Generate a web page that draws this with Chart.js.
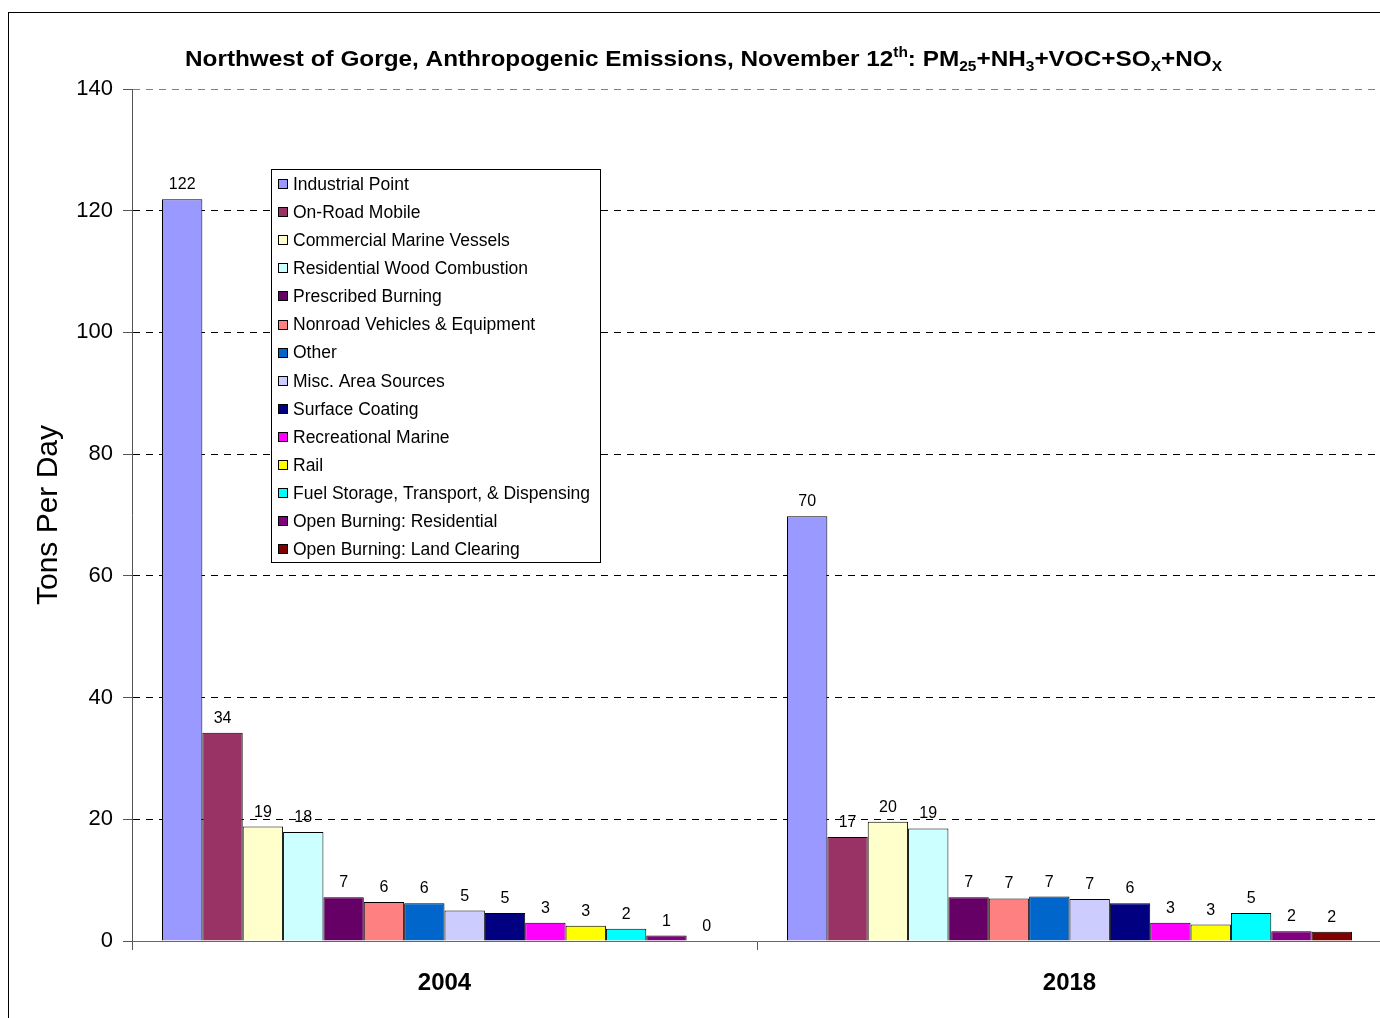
<!DOCTYPE html>
<html>
<head>
<meta charset="utf-8">
<script src="https://cdn.jsdelivr.net/npm/chart.js@4.4.1/dist/chart.umd.min.js"></script>
<style>
  html, body { margin: 0; padding: 0; background: #fff; overflow: hidden; }
  #wrap { position: relative; width: 1382px; height: 1018px; }
  #frame { position: absolute; left: 8px; top: 12px; width: 2000px; height: 2000px; border-left: 1px solid #000; border-top: 1px solid #000; pointer-events: none; }
  canvas { position: absolute; left: 0; top: 0; }
</style>
</head>
<body>
<div id="wrap">
  <canvas id="c" width="1382" height="1018"></canvas>
  <div id="frame"></div>
</div>
<script>
const categories = ['2004', '2018'];
const seriesNames = [
  'Industrial Point',
  'On-Road Mobile',
  'Commercial Marine Vessels',
  'Residential Wood Combustion',
  'Prescribed Burning',
  'Nonroad Vehicles & Equipment',
  'Other',
  'Misc. Area Sources',
  'Surface Coating',
  'Recreational Marine',
  'Rail',
  'Fuel Storage, Transport, & Dispensing',
  'Open Burning: Residential',
  'Open Burning: Land Clearing'
];
const seriesColors = [
  '#9999FF', '#993366', '#FFFFCC', '#CCFFFF', '#660066', '#FF8080', '#0066CC',
  '#CCCCFF', '#000080', '#FF00FF', '#FFFF00', '#00FFFF', '#800080', '#800000'
];
const values2004 = [121.9, 34.2, 18.8, 17.9, 7.2, 6.4, 6.2, 5.0, 4.6, 3.0, 2.5, 2.0, 0.9, 0.0];
const values2018 = [69.8, 17.1, 19.6, 18.5, 7.2, 7.0, 7.3, 6.9, 6.2, 3.0, 2.7, 4.6, 1.6, 1.5];
const yTicks = [0, 20, 40, 60, 80, 100, 120, 140];
const chartTitleParts = [
  ['Northwest of Gorge, Anthropogenic Emissions, November 12', 'n'],
  ['th', 'sup'],
  [': PM', 'n'],
  ['25', 'sub'],
  ['+NH', 'n'],
  ['3', 'sub'],
  ['+VOC+SO', 'n'],
  ['X', 'sub'],
  ['+NO', 'n'],
  ['X', 'sub']
];
const yAxisTitle = 'Tons Per Day';

const FONT = '"Liberation Sans", Arial, sans-serif';

const datasets = seriesNames.map((name, i) => ({
  label: name,
  data: [values2004[i], values2018[i]],
  backgroundColor: seriesColors[i],
  borderColor: '#000000',
  borderWidth: 1,
  borderSkipped: 'bottom'
}));

const valueLabels = {
  id: 'valueLabels',
  afterDatasetsDraw(chart) {
    const ctx = chart.ctx;
    ctx.save();
    ctx.font = '16px ' + FONT;
    ctx.fillStyle = '#000';
    ctx.textAlign = 'center';
    ctx.textBaseline = 'alphabetic';
    chart.data.datasets.forEach((ds, di) => {
      const meta = chart.getDatasetMeta(di);
      meta.data.forEach((bar, idx) => {
        const v = ds.data[idx];
        ctx.fillText(String(Math.round(v)), bar.x, bar.y - 10);
      });
    });
    ctx.restore();
  }
};

const boxLegend = {
  id: 'boxLegend',
  afterDraw(chart) {
    const ctx = chart.ctx;
    const x0 = 271, y0 = 169, w = 329, h = 393;
    ctx.save();
    ctx.fillStyle = '#fff';
    ctx.fillRect(x0, y0, w, h);
    ctx.strokeStyle = '#000';
    ctx.lineWidth = 1;
    ctx.strokeRect(x0 + 0.5, y0 + 0.5, w, h);
    ctx.font = '17.5px ' + FONT;
    ctx.textBaseline = 'middle';
    ctx.textAlign = 'left';
    chart.data.datasets.forEach((ds, i) => {
      const cy = 184 + i * 28.1;
      ctx.fillStyle = ds.backgroundColor;
      ctx.fillRect(278, Math.round(cy - 5), 10, 10);
      ctx.strokeStyle = '#000';
      ctx.strokeRect(278.5, Math.round(cy - 5) + 0.5, 9, 9);
      ctx.fillStyle = '#000';
      ctx.fillText(ds.label, 293, cy + 1);
    });
    ctx.restore();
  }
};

const richTitle = {
  id: 'richTitle',
  afterDraw(chart) {
    const ctx = chart.ctx;
    const base = 22, small = 14;
    ctx.save();
    const fontFor = t => 'bold ' + (t === 'n' ? base : small) + 'px ' + FONT;
    let total = 0;
    chartTitleParts.forEach(([s, t]) => { ctx.font = fontFor(t); total += ctx.measureText(s).width; });
    const targetW = 1037;
    const sx = targetW / total;
    const cx = 703.5, by = 66;
    ctx.translate(cx - targetW / 2, by);
    ctx.scale(sx, 1);
    let x = 0;
    ctx.fillStyle = '#000';
    ctx.textBaseline = 'alphabetic';
    ctx.textAlign = 'left';
    chartTitleParts.forEach(([s, t]) => {
      ctx.font = fontFor(t);
      const dy = t === 'sup' ? -9 : (t === 'sub' ? 5 : 0);
      ctx.fillText(s, x, dy);
      x += ctx.measureText(s).width;
    });
    ctx.restore();
  }
};

new Chart(document.getElementById('c'), {
  type: 'bar',
  data: { labels: categories, datasets },
  options: {
    responsive: false,
    devicePixelRatio: 1,
    animation: false,
    layout: { padding: { top: 89, left: 0, right: 0, bottom: 0 } },
    datasets: { bar: { categoryPercentage: 0.904, barPercentage: 1.0 } },
    plugins: {
      legend: { display: false },
      title: { display: false },
      tooltip: { enabled: false }
    },
    scales: {
      x: {
        afterFit(scale) { scale.height = 77; },
        grid: {
          offset: true,
          drawOnChartArea: false,
          drawTicks: true,
          tickLength: 9,
          tickColor: '#555',
          color: '#555'
        },
        border: { display: true, color: '#666', width: 1 },
        ticks: {
          color: '#000',
          font: { family: FONT, size: 24, weight: 'bold' },
          padding: 19
        }
      },
      y: {
        min: 0,
        max: 140,
        afterFit(scale) { scale.width = 132; },
        afterBuildTicks(scale) { scale.ticks = yTicks.map(v => ({ value: v })); },
        grid: {
          color: ctx => (ctx.tick && ctx.tick.value === 0) ? 'rgba(0,0,0,0)' : (ctx.tick && ctx.tick.value === 140 ? '#808080' : '#000'),
          lineWidth: 1,
          drawTicks: true,
          tickLength: 9,
          tickColor: '#555'
        },
        border: { display: true, color: '#555', width: 1, dash: [7, 6] },
        ticks: {
          color: '#000',
          font: { family: FONT, size: 22 },
          padding: 10
        },
        title: {
          display: true,
          text: yAxisTitle,
          color: '#000',
          font: { family: FONT, size: 30 },
          padding: { top: 31, bottom: 0 }
        }
      }
    }
  },
  plugins: [valueLabels, boxLegend, richTitle]
});
</script>
</body>
</html>
